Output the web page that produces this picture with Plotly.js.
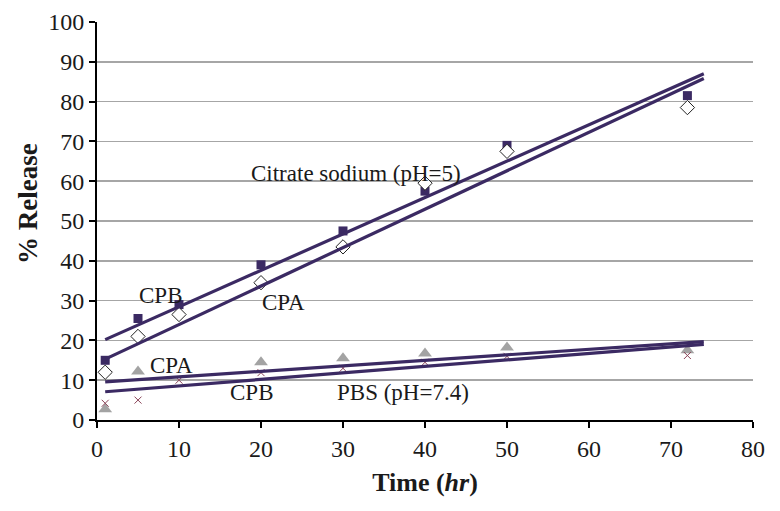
<!DOCTYPE html>
<html>
<head>
<meta charset="utf-8">
<script src="https://cdn.plot.ly/plotly-3.0.1.min.js"></script>
<style>html,body{margin:0;padding:0;background:#fff;}#chart{width:780px;height:511px;}</style>
</head>
<body>
<div id="chart"></div>
<script>
// Time points (hr)
const timeCitrate = [1, 5, 10, 20, 30, 40, 50, 72];
const citrateCPB = [15, 25.5, 29, 39, 47.5, 57.5, 69, 81.5];
const citrateCPA = [12, 21, 26.5, 34.5, 43.5, 59.5, 67.5, 78.5];
const timePbsCPA = [1, 5, 20, 30, 40, 50, 72];
const pbsCPA = [2.7, 12.2, 14.5, 15.5, 16.7, 18.2, 17.5];
const timePbsCPB = [1, 5, 10, 20, 30, 40, 50, 72];
const pbsCPB = [4.2, 5, 10, 11.9, 13, 14.5, 16, 16.2];
// Linear trendlines (start/end)
const trendX = [1, 74];
const trendCitrateCPB = [20.2, 87.0];
const trendCitrateCPA = [15.3, 85.8];
const trendPbsCPA = [9.6, 19.7];
const trendPbsCPB = [7.1, 19.0];
// Labels
const xTicks = [0, 10, 20, 30, 40, 50, 60, 70, 80];
const yTicks = [0, 10, 20, 30, 40, 50, 60, 70, 80, 90, 100];
const labels = [
  {text: 'Citrate sodium (pH=5)', x: 31.6, y: 62},
  {text: 'CPB', x: 7.7, y: 31.2},
  {text: 'CPA', x: 22.7, y: 29.6},
  {text: 'CPA', x: 9.1, y: 13.8},
  {text: 'CPB', x: 18.9, y: 6.8},
  {text: 'PBS (pH=7.4)', x: 37.3, y: 7.0}
];
const xTitle = '<b>Time (<i>hr</i>)</b>';
const yTitle = '<b>% Release</b>';

const lineColor = '#3b2a63';
const serif = "Liberation Serif";

const traces = [
  {x: timeCitrate, y: citrateCPB, mode: 'markers', type: 'scatter',
   marker: {symbol: 'square', size: 9, color: lineColor}},
  {x: timeCitrate, y: citrateCPA, mode: 'markers', type: 'scatter',
   marker: {symbol: 'diamond', size: 11, color: '#ffffff', line: {color: '#222222', width: 1}}},
  {x: timePbsCPA, y: pbsCPA, mode: 'markers', type: 'scatter',
   marker: {symbol: 'triangle-up', size: 12, color: '#a3a3a3'}},
  {x: timePbsCPB, y: pbsCPB, mode: 'markers', type: 'scatter',
   marker: {symbol: 'x-thin', size: 7, color: '#8a4458', line: {color: '#8a4458', width: 1}}},
  {x: trendX, y: trendCitrateCPB, mode: 'lines', type: 'scatter', line: {color: lineColor, width: 3.2}},
  {x: trendX, y: trendCitrateCPA, mode: 'lines', type: 'scatter', line: {color: lineColor, width: 3.2}},
  {x: trendX, y: trendPbsCPA, mode: 'lines', type: 'scatter', line: {color: lineColor, width: 3.2}},
  {x: trendX, y: trendPbsCPB, mode: 'lines', type: 'scatter', line: {color: lineColor, width: 3.2}}
];

const plotL = 97, plotR = 753, plotT = 22, plotB = 420;
const annots = labels.map(l => ({
  x: l.x, y: l.y, xref: 'x', yref: 'y', text: l.text, showarrow: false,
  font: {family: serif, size: 23, color: '#1a1a1a'}
}));
annots.push({
  x: (28 - plotL) / (plotR - plotL), y: (plotB - 204) / (plotB - plotT),
  xref: 'paper', yref: 'paper', xanchor: 'center', yanchor: 'middle',
  text: yTitle, showarrow: false,
  textangle: -90, font: {family: serif, size: 27, color: '#1a1a1a'}
});

const layout = {
  width: 780, height: 511,
  margin: {l: plotL, r: 780 - plotR, t: plotT, b: 511 - plotB},
  showlegend: false,
  paper_bgcolor: '#ffffff', plot_bgcolor: '#ffffff',
  font: {family: serif, color: '#1a1a1a', size: 24},
  xaxis: {
    range: [0, 80], tickvals: xTicks, ticktext: xTicks.map(String),
    showgrid: false, zeroline: false,
    showline: true, linecolor: '#000', linewidth: 2,
    ticks: 'outside', ticklen: 6, tickwidth: 2, tickcolor: '#000',
    tickfont: {family: serif, size: 24, color: '#1a1a1a'},
    title: {text: xTitle, font: {family: serif, size: 26, color: '#1a1a1a'}, standoff: 12}
  },
  yaxis: {
    range: [0, 100], tickvals: yTicks, ticktext: yTicks.map(String),
    showgrid: true, gridcolor: '#a6a6a6', gridwidth: 1.5, zeroline: false,
    showline: true, linecolor: '#000', linewidth: 2,
    ticks: 'outside', ticklen: 6, tickwidth: 2, tickcolor: '#000',
    tickfont: {family: serif, size: 24, color: '#1a1a1a'}
  },
  annotations: annots
};

Plotly.newPlot('chart', traces, layout, {displayModeBar: false, staticPlot: true});
</script>
</body>
</html>
